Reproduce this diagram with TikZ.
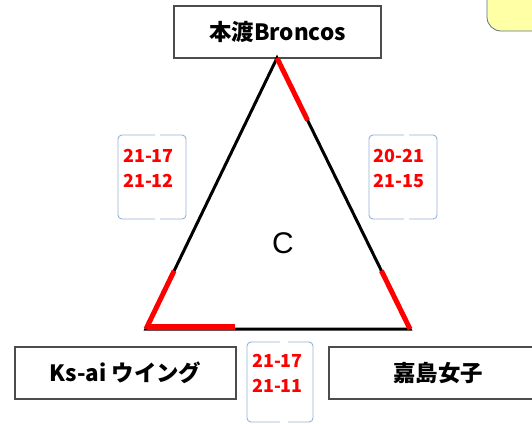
\documentclass[tikz,border=0pt]{standalone}
\usepackage{fontspec}
\setmainfont{Noto Sans CJK JP}
\newfontfamily\poolfont{Liberation Sans}
\usetikzlibrary{calc}
\definecolor{brkblue}{HTML}{95B3D7}
\definecolor{notefill}{HTML}{FFFFA6}
\definecolor{noteline}{HTML}{5B6F8F}
\tikzset{
  team/.style={draw=black!70, line width=1.2bp, minimum height=52bp, inner sep=0pt,
    font=\fontsize{22.5}{26}\selectfont\bfseries},
  score/.style={text=red, align=center, font=\fontsize{18}{25}\selectfont\bfseries},
  brk/.style={draw=brkblue, line width=0.9bp, rounded corners=4bp},
  edge/.style={line width=3bp},
  win/.style={red, line width=5bp}
}

\begin{document}
\begin{tikzpicture}[x=1bp, y=-1bp]
	\useasboundingbox (0,0) rectangle (532,423);
	\draw [fill=notefill, draw=noteline, line width=0.8bp, rounded corners=14bp] (487,-20) rectangle (560,31);

	\node [team, minimum width=207bp] (hondo) at (277.5,32) {本渡Broncos};
	\node [team, minimum width=221bp] (ksai) at (125.5,373) {Ks-ai ウイング};
	\node [team, minimum width=218bp] (kashima) at (438,373) {嘉島女子};

	\coordinate (T) at (277,58);
	\coordinate (L) at (146,329);
	\coordinate (R) at (410,329);
	\draw [edge] (T) -- (L) -- (R) -- cycle;

	\draw [win] (T) -- ($(T)!0.23!(R)$);
	\draw [win] (L) -- ($(L)!0.215!(T)$);
	\draw [win] (R) -- ($(R)!0.215!(T)$);
	\draw [red, line width=6bp] ($(L)+(2,-2)$) -- ($(L)!0.337!(R)+(0,-2)$);

	\node [font=\poolfont\fontsize{30}{30}\selectfont] (pool) at (283,243) {C};

	\node [score] (s1) at (148.5,168.5) {21-17\\21-12};
	\node [score] (s2) at (399,168.5) {20-21\\21-15};
	\node [score] (s3) at (277.5,373) {21-17\\21-11};

	\draw [brk] (155,135) -- (118,135) -- (118,219) -- (155,219);
	\draw [brk] (160,135) -- (186,135) -- (186,219) -- (160,219);
	\draw [brk] (404,135) -- (369,135) -- (369,219) -- (404,219);
	\draw [brk] (409,135) -- (437,135) -- (437,219) -- (409,219);
	\draw [brk] (280,342) -- (247,342) -- (247,422) -- (280,422);
	\draw [brk] (288,342) -- (313,342) -- (313,422) -- (288,422);
\end{tikzpicture}
\end{document}
